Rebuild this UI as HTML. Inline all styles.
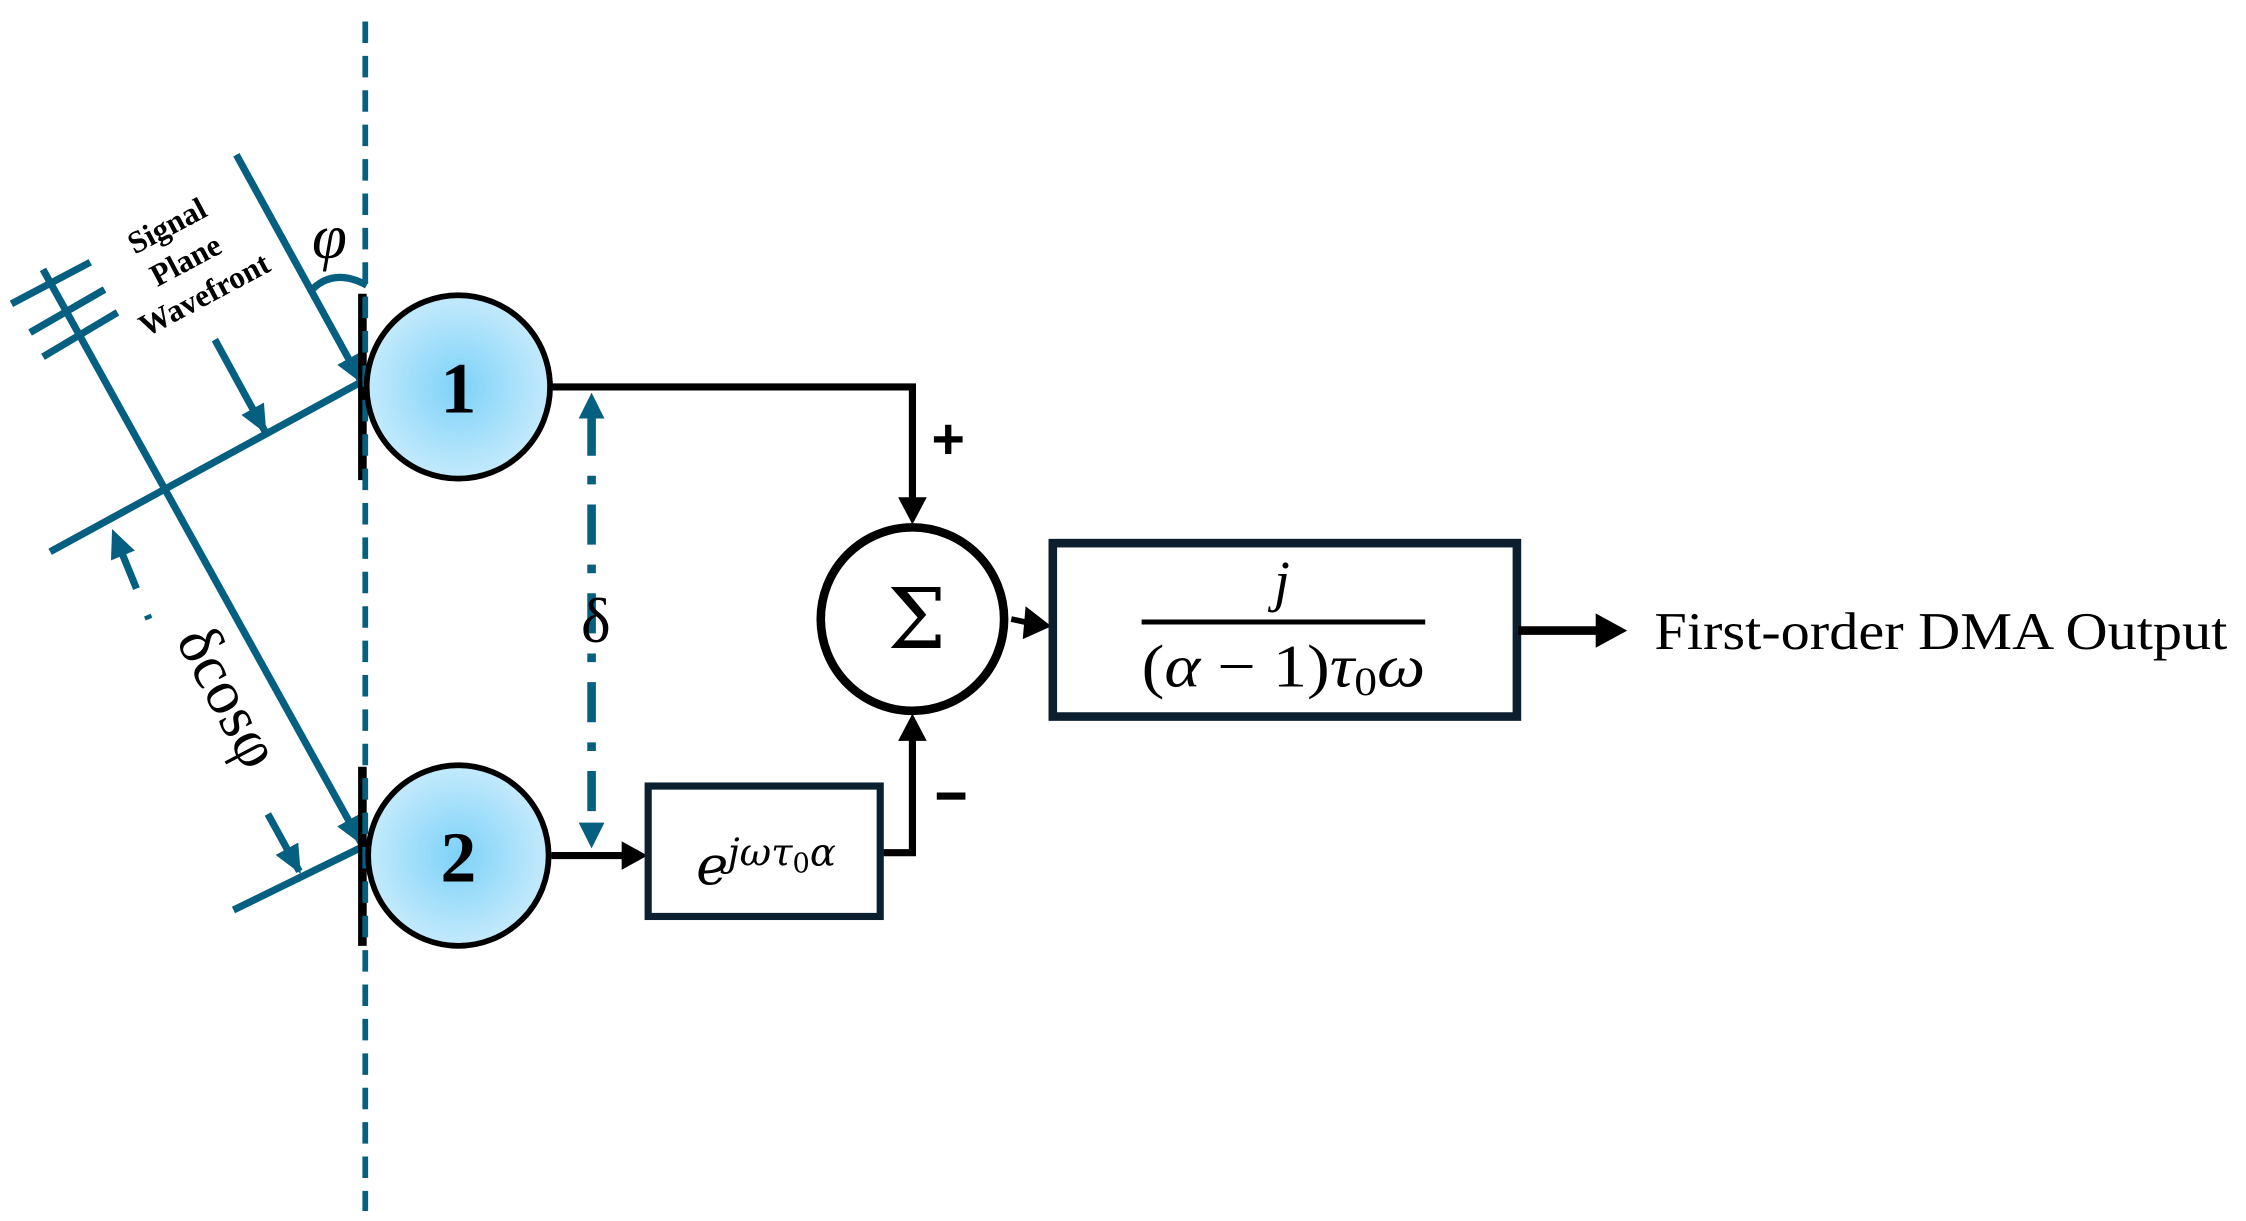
<!DOCTYPE html>
<html><head><meta charset="utf-8"><style>html,body{margin:0;padding:0;background:#fff}svg{display:block}</style></head>
<body>
<svg width="2246" height="1221" viewBox="0 0 1568 852" preserveAspectRatio="none" xmlns="http://www.w3.org/2000/svg">
<defs>
<radialGradient id="g" cx="50%" cy="50%" r="50%">
<stop offset="0" stop-color="#7dd2f8"/><stop offset="1" stop-color="#c4eafc"/>
</radialGradient>
<marker id="au" markerWidth="20" markerHeight="18" refX="18" refY="9" orient="auto" markerUnits="userSpaceOnUse" viewBox="0 0 20 18"><path d="M0,0 L20,9 L0,18 z" fill="#055f80"/></marker>
</defs>
<g stroke="#055f80" stroke-width="5" fill="none">
<line x1="255" y1="265" x2="35" y2="385"/>
<line x1="255" y1="590" x2="163" y2="635"/>
<line x1="8" y1="212" x2="63" y2="183"/>
<line x1="21" y1="232" x2="73" y2="202"/>
<line x1="30" y1="249" x2="82" y2="218"/>
<line x1="165" y1="108" x2="252" y2="266" marker-end="url(#au)"/>
<line x1="30" y1="188" x2="252" y2="588" marker-end="url(#au)"/>
<line x1="150" y1="237" x2="185" y2="301" marker-end="url(#au)"/>
<line x1="104" y1="432" x2="79" y2="371" stroke-dasharray="3 20 30 100" marker-end="url(#au)"/>
<line x1="187" y1="568" x2="209" y2="608" marker-end="url(#au)"/>
<path d="M216,204 Q232,186 256,199"/>
</g>
<line x1="253" y1="205" x2="253" y2="335" stroke="#000" stroke-width="6"/>
<line x1="253" y1="535" x2="253" y2="660" stroke="#000" stroke-width="6"/>
<line x1="255" y1="15" x2="255" y2="845" stroke="#055f80" stroke-width="4" stroke-dasharray="15 9"/>
<circle cx="320" cy="270" r="64" fill="url(#g)" stroke="#000" stroke-width="4"/>
<circle cx="320" cy="597" r="63" fill="url(#g)" stroke="#000" stroke-width="4"/>
<text x="320" y="288" font-family="Liberation Serif,serif" font-weight="bold" font-size="50" text-anchor="middle">1</text>
<text x="320" y="615" font-family="Liberation Serif,serif" font-weight="bold" font-size="50" text-anchor="middle">2</text>
<line x1="413" y1="290" x2="413" y2="575" stroke="#055f80" stroke-width="6" stroke-dasharray="28 14 6 14"/>
<path d="M404,292 L413,274 L422,292 z" fill="#055f80"/>
<path d="M404,574 L413,592 L422,574 z" fill="#055f80"/>
<text x="416" y="448" font-family="Liberation Serif,serif" font-size="44" text-anchor="middle">δ</text>
<polyline points="385,270 637,270 637,350" fill="none" stroke="#000" stroke-width="5"/>
<path d="M627,347 L637,366 L647,347 z" fill="#000"/>
<polyline points="385,597 436,597" fill="none" stroke="#000" stroke-width="5"/>
<path d="M434,587 L452,597 L434,607 z" fill="#000"/>
<polyline points="616,595 637,595 637,514" fill="none" stroke="#000" stroke-width="5"/>
<path d="M627,517 L637,498 L647,517 z" fill="#000"/>
<text x="662" y="320" font-family="Liberation Sans,sans-serif" font-weight="bold" font-size="40" text-anchor="middle">+</text>
<rect x="654" y="553" width="20" height="5" fill="#000"/>
<circle cx="637" cy="432" r="64" fill="#fff" stroke="#000" stroke-width="6"/>
<text x="640" y="452" font-family="DejaVu Serif,Liberation Serif,serif" font-size="58" text-anchor="middle">Σ</text>
<line x1="706" y1="432" x2="720" y2="435" stroke="#000" stroke-width="4"/>
<path d="M716,423 L734,437 L714,446 z" fill="#000"/>
<rect x="452.5" y="548.5" width="162" height="91" fill="#fff" stroke="#0b1f2e" stroke-width="5"/>
<text x="486" y="617" font-family="DejaVu Serif,serif" font-style="italic" font-size="38">e</text>
<text x="508" y="604" font-family="DejaVu Serif,serif" font-style="italic" font-size="27">jωτ<tspan font-style="normal" font-size="19" dy="5">0</tspan><tspan dy="-5">α</tspan></text>
<rect x="735" y="379" width="324" height="121" fill="#fff" stroke="#0b1f2e" stroke-width="6"/>
<text x="895" y="419" font-family="Liberation Serif,serif" font-style="italic" font-size="40" text-anchor="middle">j</text>
<line x1="797" y1="434" x2="995" y2="434" stroke="#000" stroke-width="3.5"/>
<text x="797" y="479" font-family="Liberation Serif,serif" font-size="42" textLength="198" lengthAdjust="spacingAndGlyphs"><tspan>(</tspan><tspan font-style="italic">α</tspan> − 1)<tspan font-style="italic">τ</tspan><tspan font-size="28" dy="6">0</tspan><tspan dy="-6" font-style="italic">ω</tspan></text>
<line x1="1060" y1="440" x2="1118" y2="440" stroke="#000" stroke-width="6"/>
<path d="M1114,428 L1136,440 L1114,452 z" fill="#000"/>
<text x="1155" y="453" font-family="Liberation Serif,serif" font-size="37" textLength="400" lengthAdjust="spacingAndGlyphs">First-order DMA Output</text>
<text x="230" y="180" font-family="Liberation Serif,serif" font-style="italic" font-size="44" text-anchor="middle">φ</text>
<g font-family="Liberation Serif,serif" font-size="22" font-weight="bold" text-anchor="middle">
<text transform="translate(120,164) rotate(-28)">Signal</text>
<text transform="translate(133,188) rotate(-28)">Plane</text>
<text transform="translate(146,212) rotate(-28)">Wavefront</text>
</g>
<text transform="translate(147,493) rotate(62)" font-family="Liberation Serif,serif" font-size="44" text-anchor="middle">δcosφ</text>
</svg>
</body></html>
